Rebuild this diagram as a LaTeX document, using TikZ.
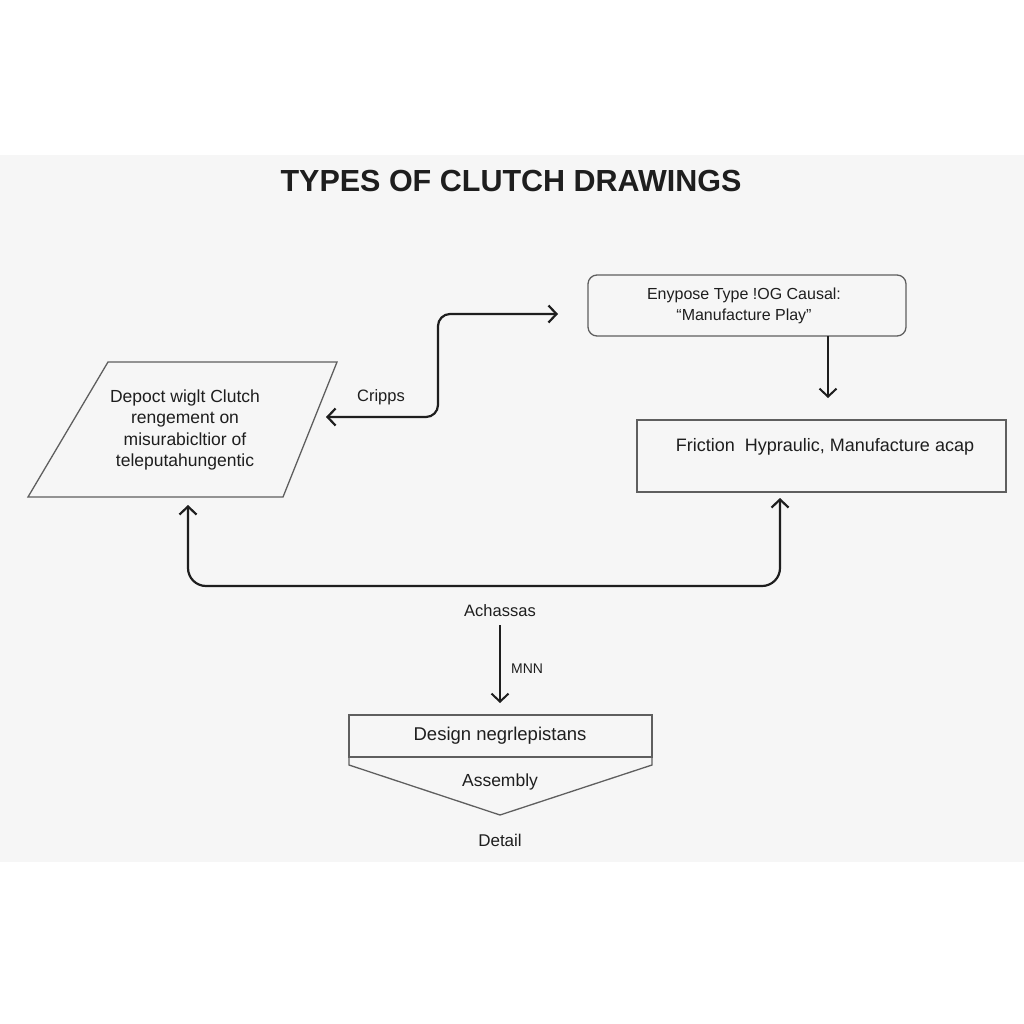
\documentclass[tikz,border=0pt]{standalone}
\usepackage{fontspec}
\setmainfont{Liberation Sans}
\usetikzlibrary{arrows.meta,calc}
\definecolor{panel}{RGB}{246,246,246}
\definecolor{boxline}{RGB}{95,95,95}
\definecolor{ink}{RGB}{30,30,30}
\tikzset{
  boxstyle/.style={draw=boxline,line width=1.3pt},
  conn/.style={draw=ink,line width=2.2pt,arrows={Straight Barb[length=8pt,width=17pt,line width=2.2pt]-Straight Barb[length=8pt,width=17pt,line width=2.2pt]}},
  oneway/.style={draw=ink,line width=2pt,-{Straight Barb[length=8pt,width=17pt,line width=2pt]}},
  txt/.style={text=ink,align=center,inner sep=0pt},
  fs/.style={font=\fontsize{#1}{1.25*#1}\selectfont}
}
\begin{document}
\begin{tikzpicture}[x=1pt,y=-1pt]
\useasboundingbox (0,0) rectangle (1024,1024);
\fill[white] (0,0) rectangle (1024,1024);
\fill[panel] (0,155) rectangle (1024,862);
% title
\node[font=\fontsize{30.5}{34}\selectfont\bfseries,text=ink,inner sep=0pt] (title) at (511,181) {TYPES OF CLUTCH DRAWINGS};
% top right rounded box
\draw[boxstyle,rounded corners=9pt] (588,275) rectangle (906,336);
\node[txt,font=\fontsize{16}{21}\selectfont] (enypose) at (744,306) {Enypose Type !OG Causal:\\``Manufacture Play''};
\coordinate (eb) at (828,336);
\coordinate (fa) at (828,398);
\draw[oneway] (eb) -- (fa);
% right box
\draw[boxstyle] (637,420) rectangle (1006,492);
\node[txt,font=\fontsize{18}{21}\selectfont] (friction) at (825,447) {Friction\ \ Hypraulic,\ Manufacture acap};
% parallelogram
\draw[boxstyle] (108,362) -- (337,362) -- (283,497) -- (28,497) -- cycle;
\node[txt,font=\fontsize{17.5}{21.3}\selectfont] (depoct) at (185,430) {Depoct wiglt Clutch\\rengement on\\misurabicltior of\\teleputahungentic};
% upper connector
\coordinate (cL) at (326,417);
\coordinate (cR) at (558,314);
\draw[conn,rounded corners=12pt] (cL) -- ++(112,0) |- (cR);
\node[txt,font=\fontsize{16.5}{20}\selectfont] (cripps) at (381,397) {Cripps};
% lower connector
\coordinate (pb) at (188,505);
\coordinate (rb) at (780,498);
\draw[conn,rounded corners=18pt] (pb) -- (188,586) -| (rb);
% Achassas
\node[txt,font=\fontsize{16.5}{20}\selectfont] (achassas) at (500,611) {Achassas};
\coordinate (aa) at (500,625);
\coordinate (ab) at (500,703);
\draw[oneway] (aa) -- (ab);
\node[txt,font=\fontsize{14}{16}\selectfont,anchor=west] (mnn) at (511,669) {MNN};
% bottom shape
\draw[boxstyle] (349,715) rectangle (652,757);
\draw[boxstyle] (349,757) -- (349,765) -- (500,815) -- (652,765) -- (652,757);
\node[txt,font=\fontsize{18.5}{21}\selectfont] (design) at (500,736) {Design negrlepistans};
\node[txt,font=\fontsize{17.5}{21}\selectfont] (assembly) at (500,782) {Assembly};
\node[txt,font=\fontsize{17}{21}\selectfont] (detail) at (500,840) {Detail};
\end{tikzpicture}
\end{document}
